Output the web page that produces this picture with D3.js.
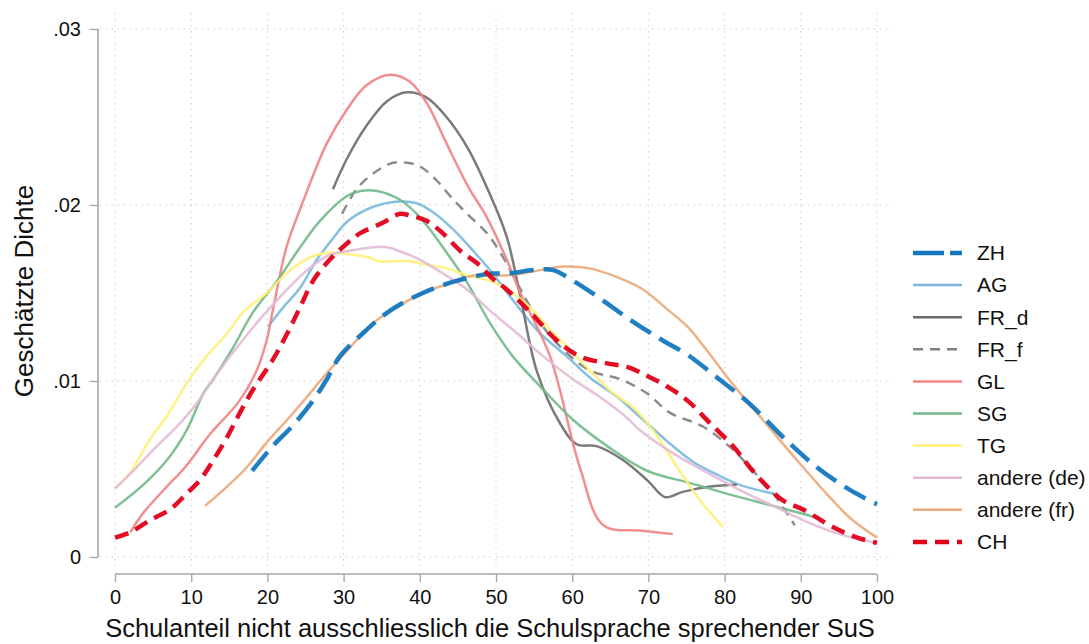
<!DOCTYPE html>
<html>
<head>
<meta charset="utf-8">
<script src="https://cdn.jsdelivr.net/npm/d3@7"></script>
<style>
  html, body { margin: 0; padding: 0; background: #fff; }
  svg { display: block; font-family: Arial, "Liberation Sans", Helvetica, sans-serif; }
</style>
</head>
<body>
<svg id="chart" width="1089" height="644"></svg>
<script>
// Estimated densities: [Schulanteil %, Dichte]
const ZH = [[18,.0049],[20.7,.0063],[23.4,.0075],[26,.0089],[27.8,.0101],[29.5,.0114],[32.5,.0127],[36.1,.0140],[40.4,.0150],[44.9,.0157],[49.2,.0161],[51.4,.0161],[54.9,.0163],[57.5,.0163],[60.1,.0157],[63.3,.0148],[67.2,.0136],[71.5,.0124],[75.1,.0115],[79,.0102],[83.3,.0087],[87.7,.0068],[92.1,.0051],[96.5,.0038],[100,.0030]];
const AG = [[20.1,.0131],[22.1,.0142],[24.3,.0153],[26.5,.0169],[28.6,.0181],[30.6,.0191],[33.9,.0199],[37.4,.0202],[39.6,.0201],[41.7,.0196],[44.4,.0186],[47,.0174],[49.4,.0162],[52.2,.0146],[55.8,.0127],[59.3,.0114],[62.3,.0102],[65.9,.0091],[69.3,.0078],[72.4,.0066],[75.9,.0054],[79.4,.0046],[82,.0041],[86.4,.0036]];
const FR_d = [[28.6,.0209],[30.4,.0226],[33,.0245],[35.7,.0259],[38.3,.0264],[40.9,.0261],[43.5,.0250],[46.2,.0233],[48.8,.0210],[51.4,.0182],[53.2,.0148],[55.4,.0105],[58.4,.0076],[60.6,.0064],[63.2,.0063],[66.7,.0055],[70,.0043],[72.2,.0034],[74.5,.0037],[78.1,.0040],[81.6,.0041]];
const FR_f = [[29.8,.0195],[31.7,.0209],[33.9,.0218],[36.5,.0224],[38.3,.0224],[40,.0222],[42.2,.0214],[44,.0205],[46.2,.0195],[48.8,.0184],[50.7,.0172],[53.1,.0153],[55.8,.0133],[58.8,.0118],[62.3,.0106],[66.3,.0101],[69.8,.0093],[72.8,.0082],[77.2,.0074],[81.1,.0061],[83.5,.0050],[86.4,.0036],[89.2,.0018]];
const GL = [[2,.0014],[3.7,.0025],[6.8,.0040],[9.2,.0051],[12.5,.0070],[16.2,.0088],[18.6,.0106],[19.9,.0123],[20.8,.0142],[22.5,.0176],[24.5,.0200],[27.8,.0235],[30.4,.0254],[33,.0268],[36.1,.0274],[38.7,.0270],[40.9,.0258],[43.5,.0235],[46.4,.0210],[48.8,.0193],[51.4,.0169],[53.2,.0150],[57.1,.0114],[61,.0051],[64.1,.0018],[68.9,.0015],[73.2,.0013]];
const SG = [[0,.0028],[3.7,.0041],[6.8,.0055],[9.4,.0072],[11.6,.0093],[12.9,.0101],[15.5,.0119],[18.1,.0139],[21.3,.0157],[24.3,.0176],[26.9,.0191],[30.4,.0205],[32.2,.0208],[34.4,.0208],[37.4,.0203],[39.6,.0195],[41.7,.0184],[44,.0170],[46.2,.0156],[49.2,.0133],[52.2,.0114],[55.8,.0097],[60.1,.0078],[64.6,.0063],[69.8,.0049],[75.5,.0042],[81.1,.0035],[86.4,.0029],[91.6,.0023]];
const TG = [[0,.0039],[2,.0048],[4.6,.0067],[6.8,.0080],[9.6,.0100],[12,.0114],[14.7,.0127],[16.8,.0139],[19.9,.0150],[23,.0163],[26,.0171],[28.6,.0173],[30.8,.0172],[33.5,.0170],[34.6,.0168],[36.5,.0168],[38.7,.0168],[40.9,.0166],[43.5,.0164],[46.2,.0160],[49.2,.0157],[52.2,.0150],[54.9,.0140],[57.1,.0129],[59.7,.0118],[62.3,.0106],[65.4,.0093],[68,.0085],[70.6,.0072],[74.1,.0049],[76.8,.0032],[79.8,.0017]];
const andere_de = [[0,.0039],[2.4,.0049],[5.5,.0063],[8.1,.0074],[10.5,.0086],[12.9,.0101],[16,.0119],[19,.0135],[21.7,.0148],[24.7,.0161],[27.8,.0171],[30.8,.0174],[33.9,.0176],[35.7,.0176],[37.8,.0173],[40,.0169],[42.7,.0162],[46.2,.0152],[49.2,.0140],[52.8,.0127],[56.2,.0114],[60.1,.0101],[63.6,.0091],[67.2,.0079],[68.9,.0072],[73.2,.0059],[77.7,.0048],[82,.0038],[86.4,.0029],[90.8,.0020],[95.1,.0013],[100,.0008]];
const andere_fr = [[11.8,.0029],[14.7,.0040],[17.3,.0051],[19.9,.0065],[22.6,.0078],[25.2,.0091],[27.3,.0102],[30.4,.0117],[33.9,.0133],[37,.0142],[40.4,.0150],[44.9,.0157],[47,.0160],[51.4,.0160],[55.8,.0163],[58.8,.0165],[62.3,.0164],[65.9,.0159],[69.3,.0152],[72.4,.0141],[75.1,.0131],[77.2,.0120],[81.1,.0098],[85,.0078],[89.5,.0055],[93.8,.0034],[96.5,.0022],[100,.0011]];
const CH = [[0,.0011],[2,.0014],[4.6,.0021],[7.2,.0027],[9.4,.0036],[11.2,.0044],[12.9,.0055],[14.7,.0068],[16.4,.0082],[18.1,.0095],[20.7,.0112],[22.6,.0127],[24.3,.0142],[26,.0157],[28.2,.0169],[30.4,.0178],[32.2,.0184],[35.2,.0190],[37.4,.0195],[38.7,.0194],[40.9,.0191],[43,.0184],[45.3,.0174],[47.5,.0167],[49.6,.0158],[51.4,.0152],[54.5,.0139],[58,.0123],[61,.0114],[64.6,.0110],[67.2,.0108],[69.8,.0103],[72.4,.0097],[75.1,.0089],[78.1,.0076],[81.1,.0063],[83.3,.0051],[85.6,.0040],[87.7,.0032],[90.3,.0027],[94.2,.0017],[97.4,.0011],[100,.0008]];

const xTicks = [0,10,20,30,40,50,60,70,80,90,100];
const yTicks = [0,.01,.02,.03];
const yTickLabels = ["0",".01",".02",".03"];

// Series definitions in legend order; z gives drawing order
const series = [
  {name:"ZH", data:ZH, color:"#1477c0", width:4.5, dash:"24,10", z:8},
  {name:"AG", data:AG, color:"#7ab8de", width:2.5, dash:null, z:0},
  {name:"FR_d", data:FR_d, color:"#6b6b6b", width:2.5, dash:null, z:1},
  {name:"FR_f", data:FR_f, color:"#7f7f7f", width:2.5, dash:"10,7", z:2},
  {name:"GL", data:GL, color:"#f08383", width:2.5, dash:null, z:3},
  {name:"SG", data:SG, color:"#72b98a", width:2.5, dash:null, z:4},
  {name:"TG", data:TG, color:"#fff176", width:2.5, dash:null, z:5},
  {name:"andere (de)", data:andere_de, color:"#e3bad6", width:2.5, dash:null, z:6},
  {name:"andere (fr)", data:andere_fr, color:"#eba878", width:2.5, dash:null, z:7},
  {name:"CH", data:CH, color:"#e2001a", width:4.5, dash:"14,8", z:9}
];

const svg = d3.select("#chart");
const x = d3.scaleLinear().domain([0,100]).range([115,877]);
const y = d3.scaleLinear().domain([0,.03]).range([557,29]);

// dotted grid
const grid = svg.append("g").attr("stroke","#c4c4c4").attr("stroke-width",1.2).attr("stroke-dasharray","1.2,4.8");
grid.selectAll("line.v").data(xTicks).join("line")
  .attr("x1",d=>x(d)).attr("x2",d=>x(d))
  .attr("y1",y(.0309)).attr("y2",y(-.0006));
grid.selectAll("line.h").data(yTicks).join("line")
  .attr("y1",d=>y(d)).attr("y2",d=>y(d))
  .attr("x1",x(-2)).attr("x2",x(102));

// axes
const axisColor = "#a6a6a6";
const xAxis = svg.append("g").attr("transform","translate(0,574)")
  .call(d3.axisBottom(x).tickValues(xTicks).tickFormat(d3.format("d")).tickSize(8).tickPadding(8));
const yAxis = svg.append("g").attr("transform","translate(98,0)")
  .call(d3.axisLeft(y).tickValues(yTicks).tickFormat((d,i)=>yTickLabels[i]).tickSize(8).tickPadding(9));
[xAxis,yAxis].forEach(a=>{
  a.select(".domain").attr("stroke",axisColor).attr("stroke-width",1.6)
    .attr("d", a===xAxis ? `M${x(0)},0H${x(100)}` : `M0,${y(.03)}V${y(0)}`);
  a.selectAll(".tick line").attr("stroke",axisColor).attr("stroke-width",1.4);
  a.selectAll(".tick text").attr("fill","#111").attr("font-size",20).attr("font-family","Arial, 'Liberation Sans', sans-serif");
});

// axis titles
svg.append("text").attr("x",490).attr("y",637).attr("text-anchor","middle")
  .attr("font-size",25.5).attr("fill","#111").text("Schulanteil nicht ausschliesslich die Schulsprache sprechender SuS");
svg.append("text").attr("transform","translate(33,291) rotate(-90)").attr("text-anchor","middle")
  .attr("font-size",26).attr("fill","#111").text("Geschätzte Dichte");

// density curves
const line = d3.line().x(d=>x(d[0])).y(d=>y(d[1])).curve(d3.curveCatmullRom.alpha(0.5));
const drawOrder = series.slice().sort((a,b)=>a.z-b.z);
svg.append("g").attr("fill","none").selectAll("path").data(drawOrder).join("path")
  .attr("d",d=>line(d.data))
  .attr("stroke",d=>d.color)
  .attr("stroke-width",d=>d.width)
  .attr("stroke-dasharray",d=>d.dash)
  .attr("stroke-opacity",d=>d.width>3?0.95:0.9)
  .attr("stroke-linejoin","round");

// legend
const leg = svg.append("g").selectAll("g").data(series).join("g")
  .attr("transform",(d,i)=>`translate(913,${253+i*32.1})`);
leg.append("line").attr("x1",0).attr("x2",49).attr("y1",0).attr("y2",0)
  .attr("stroke",d=>d.color).attr("stroke-width",d=>d.width)
  .attr("stroke-dasharray",d=>d.name==="ZH"?"31,6":d.dash);
leg.append("text").attr("x",64).attr("y",0).attr("dy","0.35em")
  .attr("font-size",21).attr("fill","#111").text(d=>d.name);
</script>
</body>
</html>
